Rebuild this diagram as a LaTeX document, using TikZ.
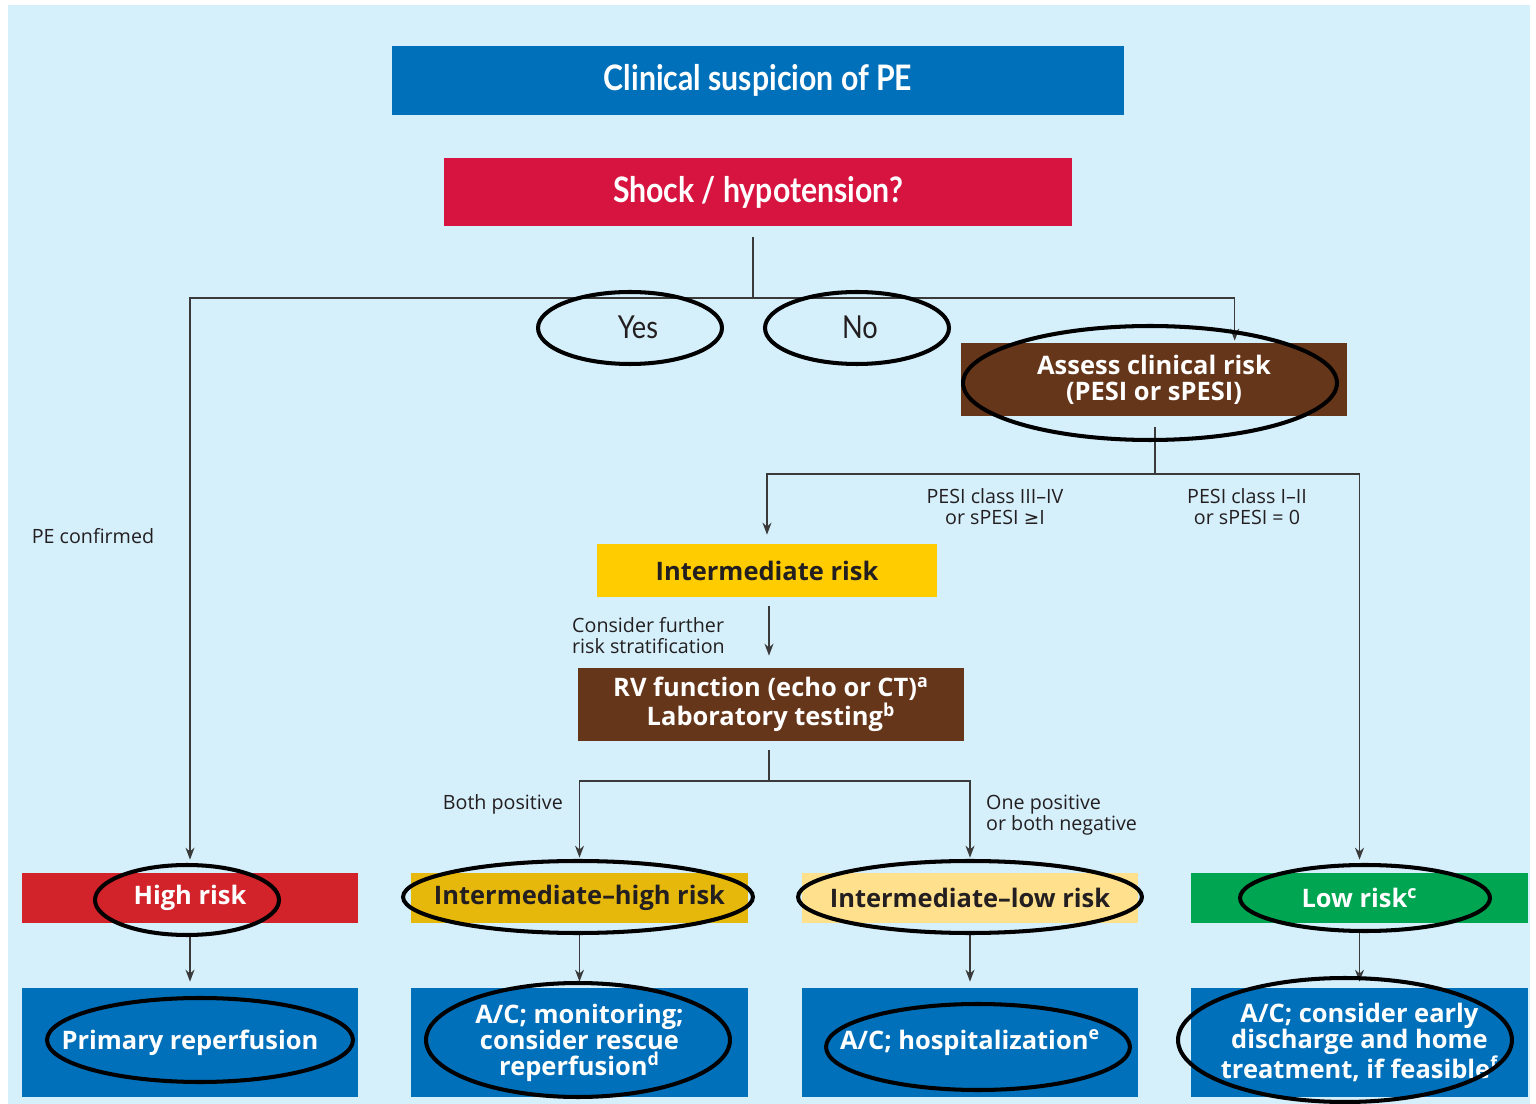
\documentclass[tikz,border=0pt]{standalone}
\usepackage{fontspec}
\setmainfont{Open Sans}
\newfontfamily\condfont[FakeStretch=0.86]{Lato}
\newfontfamily\symfont{DejaVu Sans}
\usepackage{tikz}
\usetikzlibrary{arrows.meta,positioning,calc}
\usepackage{xcolor}
\definecolor{bgblue}{HTML}{D5EFFB}
\definecolor{escblue}{HTML}{0070BA}
\definecolor{shockred}{HTML}{D7143F}
\definecolor{hired}{HTML}{D2232A}
\definecolor{riskbrown}{HTML}{66361A}
\definecolor{amber}{HTML}{FFCC00}
\definecolor{ihyellow}{HTML}{E6B80B}
\definecolor{ilyellow}{HTML}{FFE08C}
\definecolor{lowgreen}{HTML}{00A551}
\definecolor{inkdark}{HTML}{231F20}
\definecolor{linegray}{HTML}{3A3A3A}
\tikzset{
  headbox/.style={inner sep=0pt, align=center, text=white,
                  font=\condfont\bfseries\fontsize{20}{22}\selectfont},
  riskbox/.style={inner sep=0pt, align=center, text=white,
                  font=\bfseries\fontsize{14.5}{14.8}\selectfont},
  rowone/.style={riskbox, minimum width=6.74cm, minimum height=1.0cm},
  rowtwo/.style={riskbox, fill=escblue, minimum width=6.74cm, minimum height=2.18cm},
  flowline/.style={draw=linegray, line width=0.9pt},
  flowarr/.style={-{Stealth[length=2.4mm,width=1.8mm]}, draw=linegray, line width=0.9pt},
  flowlab/.style={font=\fontsize{11.2}{12}\selectfont, text=inkdark, align=center},
  ringmark/.style={draw=black, line width=2.3pt},
}

\begin{document}
\begin{tikzpicture}[x=0.02cm,y=-0.02cm]
\useasboundingbox (0,0) rectangle (1536,1104);
\fill[bgblue] (8,5) rectangle (1530,1104);

% top of the algorithm
\node[headbox, fill=escblue, minimum width=14.64cm, minimum height=1.38cm] (suspect) at (758,80.5)
  {Clinical suspicion of PE};
\node[headbox, fill=shockred, minimum width=12.56cm, minimum height=1.36cm] (shock) at (758,192)
  {Shock / hypotension?};
\node[font=\condfont\fontsize{18}{20}\selectfont, text=inkdark] (yes) at (638,327) {Yes};
\node[font=\condfont\fontsize{18}{20}\selectfont, text=inkdark] (no) at (860,327) {No};
\node[riskbox, fill=riskbrown, minimum width=7.72cm, minimum height=1.46cm] (assess) at (1154,379.5)
  {Assess clinical risk\\(PESI or sPESI)};

% intermediate branch
\node[riskbox, fill=amber, text=inkdark, minimum width=6.8cm, minimum height=1.06cm] (inter) at (767,570.5)
  {Intermediate risk};
\node[riskbox, fill=riskbrown, minimum width=7.72cm, minimum height=1.46cm] (rvtest) at (771,704.5)
  {RV function (echo or CT)\textsuperscript{a}\\Laboratory testing\textsuperscript{b}};

% risk classes
\node[rowone, fill=hired] (high) at (190,898) {High risk};
\node[rowone, fill=ihyellow, text=inkdark] (ihigh) at (579.5,898) {Intermediate--high risk};
\node[rowone, fill=ilyellow, text=inkdark] (ilow) at (970,898) {Intermediate--low risk};
\node[rowone, fill=lowgreen] (low) at (1359.5,898) {Low risk\textsuperscript{c}};

% management
\node[rowtwo] (reperf) at (190,1042.5) {Primary reperfusion};
\node[rowtwo] (monit) at (579.5,1042.5) {A/C; monitoring;\\consider rescue\\reperfusion\textsuperscript{d}};
\node[rowtwo] (hospit) at (970,1042.5) {A/C; hospitalization\textsuperscript{e}};
\node[rowtwo] (homecare) at (1359.5,1042.5) {A/C; consider early\\discharge and home\\treatment, if feasible\textsuperscript{f}};

% labels
\node[flowlab] (confirmed) at (93,536) {PE confirmed};
\node[flowlab] (pesihigh) at (995,507) {PESI class III--IV\\or sPESI {\symfont\fontsize{10.5}{12}\selectfont ≥}I};
\node[flowlab] (pesilow) at (1247,507) {PESI class I--II\\or sPESI = 0};
\node[flowlab, align=left, anchor=west] (further) at (566,636) {Consider further\\risk stratification};
\node[flowlab, anchor=east] (bothpos) at (569,804) {Both positive};
\node[flowlab, align=left, anchor=west] (onepos) at (980,815) {One positive\\or both negative};

% connectors
\coordinate (split) at (753,298);
\coordinate (splitb) at (1155,474);
\coordinate (splitc) at (769,781);
\draw[flowline] ($(shock.south)+(-5,11)$) -- (split);
\draw[flowarr, shorten >=0.26cm] (split) -| (high.north);
\draw[flowarr, shorten >=0.04cm] (split) -| ($(assess.north west)+(274,0)$);
\draw[flowline] ($(assess.south)+(1,11)$) -- (splitb);
\draw[flowarr, shorten >=0.18cm] (splitb) -| (inter.north);
\draw[flowarr, shorten >=0.26cm] (splitb) -| (low.north);
\draw[flowarr, shorten <=0.18cm, shorten >=0.24cm] (inter.south -| splitc) -- (rvtest.north -| splitc);
\draw[flowline] ($(rvtest.south -| splitc)+(0,9)$) -- (splitc);
\draw[flowarr, shorten >=0.3cm] (splitc) -| (ihigh.north);
\draw[flowarr, shorten >=0.3cm] (splitc) -| (ilow.north);
\foreach \a/\b in {high/reperf, ihigh/monit, ilow/hospit, low/homecare}
  \draw[flowarr, shorten <=0.2cm, shorten >=0.12cm] (\a.south) -- (\b.north);

% hand-drawn rings
\draw[ringmark] (630,328) ellipse [x radius=1.84cm, y radius=0.72cm];
\draw[ringmark] (857,328) ellipse [x radius=1.84cm, y radius=0.72cm];
\draw[ringmark] (1150,383) ellipse [x radius=3.74cm, y radius=1.14cm];
\draw[ringmark] (187,900) ellipse [x radius=1.84cm, y radius=0.7cm];
\draw[ringmark] (578,897) ellipse [x radius=3.5cm, y radius=0.72cm];
\draw[ringmark] (970,897) ellipse [x radius=3.44cm, y radius=0.72cm];
\draw[ringmark] (1365,898) ellipse [x radius=2.5cm, y radius=0.66cm];
\draw[ringmark] (200,1040) ellipse [x radius=3.06cm, y radius=0.84cm];
\draw[ringmark] (578,1040) ellipse [x radius=3.04cm, y radius=1.14cm];
\draw[ringmark] (978,1047) ellipse [x radius=3.04cm, y radius=0.86cm];
\draw[ringmark] (1345,1040) ellipse [x radius=3.34cm, y radius=1.24cm];
\end{tikzpicture}
\end{document}
